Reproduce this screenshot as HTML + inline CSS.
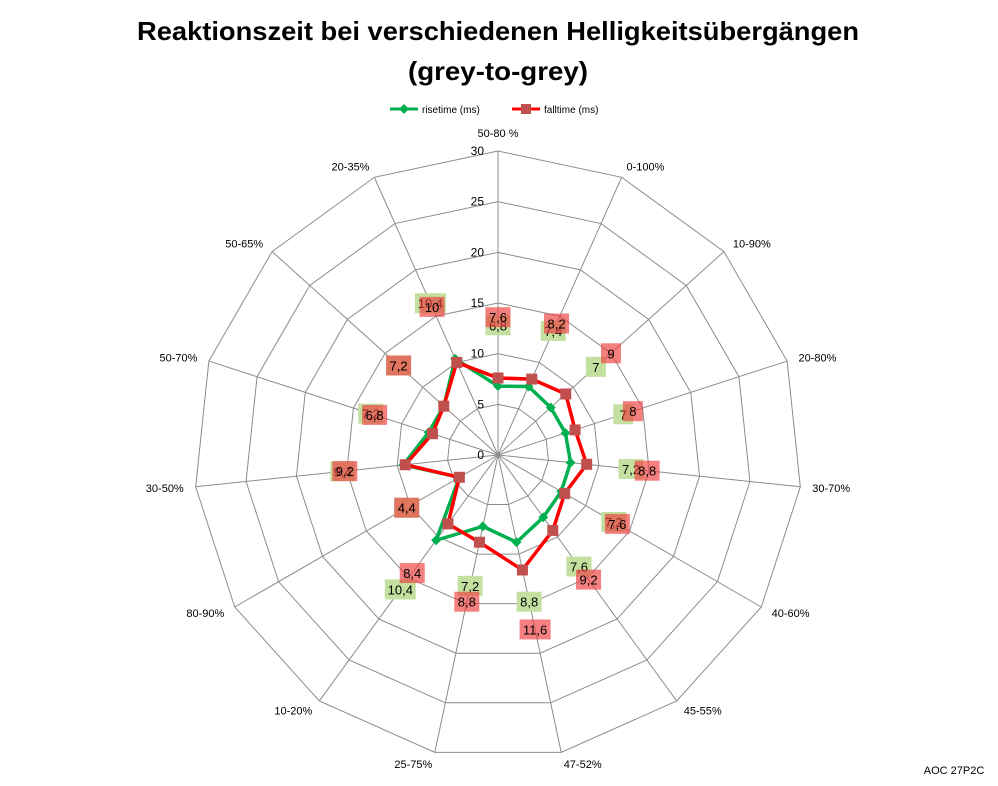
<!DOCTYPE html>
<html><head><meta charset="utf-8"><style>
body{margin:0;background:#fff;}
svg{display:block;font-family:"Liberation Sans",sans-serif;}
</style></head><body>
<svg id="chart" width="998" height="786" viewBox="0 0 998 786">
<text x="498" y="40" text-anchor="middle" font-size="26" font-weight="bold" textLength="722" lengthAdjust="spacingAndGlyphs">Reaktionszeit bei verschiedenen Helligkeitsübergängen</text>
<text x="498" y="80" text-anchor="middle" font-size="26" font-weight="bold" textLength="180" lengthAdjust="spacingAndGlyphs">(grey-to-grey)</text>
<g>
<g>
<line x1="390" y1="109" x2="418" y2="109" stroke="#00b050" stroke-width="3"/>
<rect x="400.5" y="105.5" width="7" height="7" fill="#00b050" transform="rotate(45 404 109)"/>
<text x="422" y="113" font-size="10">risetime (ms)</text>
</g>
<g>
<line x1="512" y1="109" x2="540" y2="109" stroke="#ff0000" stroke-width="3"/>
<rect x="521" y="104" width="10" height="10" fill="#c0504d"/>
<text x="544" y="113" font-size="10">falltime (ms)</text>
</g>
</g>
<g id="grid"></g>
<g id="ticks"></g>
<g id="cats"></g>
<g id="series"></g>
<g id="labels"></g>
<text x="954" y="774" text-anchor="middle" font-size="11">AOC 27P2C</text>
</svg>
<script>
const categories = ["50-80 %","0-100%","10-90%","20-80%","30-70%","40-60%","45-55%","47-52%","25-75%","10-20%","80-90%","30-50%","50-70%","50-65%","20-35%"];
const riseValues = [6.8,7.4,7,7,7.2,7.2,7.6,8.8,7.2,10.4,4.4,9.4,7.2,7.2,10.4];
const fallValues = [7.6,8.2,9,8,8.8,7.6,9.2,11.6,8.8,8.4,4.4,9.2,6.8,7.2,10];
const riseLabels = ["6,8","7,4","7","7","7,2","7,2","7,6","8,8","7,2","10,4","4,4","9,4","7,2","7,2","10,4"];
const fallLabels = ["7,6","8,2","9","8","8,8","7,6","9,2","11,6","8,8","8,4","4,4","9,2","6,8","7,2","10"];
const tickValues = [0,5,10,15,20,25,30];

const NS="http://www.w3.org/2000/svg";
const cx=498, cy=455, R=304, maxV=30;
const n=categories.length;
function ang(i){return i*2*Math.PI/n;}
function rScale(v){return v/maxV*R;}
function pt(i,v){const a=ang(i),r=rScale(v);return [cx+r*Math.sin(a), cy-r*Math.cos(a)];}
function mk(tag,attrs,parent){const e=document.createElementNS(NS,tag);for(const k in attrs)e.setAttribute(k,attrs[k]);parent.appendChild(e);return e;}

const grid=document.getElementById('grid');
tickValues.slice(1).forEach(t=>{
  const p=[];for(let i=0;i<n;i++)p.push(pt(i,t).join(','));
  const g=mk('polygon',{points:p.join(' '),fill:'none',stroke:'#8c8c8c','stroke-width':1},grid);
  
  
});
for(let i=0;i<n;i++){
  const [x,y]=pt(i,maxV);
  const l=mk('line',{x1:cx,y1:cy,x2:x,y2:y,stroke:'#8c8c8c','stroke-width':1},grid);
  
  
}
const ticks=document.getElementById('ticks');
tickValues.forEach(t=>{
  const tx=mk('text',{x:484,y:cy-rScale(t)+4,'text-anchor':'end','font-size':12},ticks);
  tx.textContent=t;
  
  
});
const cats=document.getElementById('cats');
categories.forEach((c,i)=>{
  const a=ang(i),s=Math.sin(a),co=Math.cos(a);
  const r=R+12;
  let x=cx+r*s, y=cy-r*co+4;
  let anchor='middle';
  if(s>0.15)anchor='start'; else if(s<-0.15)anchor='end';
  if(Math.abs(s)<=0.15){y=cy-(R+14)*co+(co>0?0:8);}
  const t=mk('text',{x:x,y:y,'text-anchor':anchor,'font-size':11},cats);
  t.textContent=c;
  
  
});
const series=document.getElementById('series');
function drawSeries(vals,color,marker,name){
  const g=mk('g',{},series);
  
  
  const p=vals.map((v,i)=>pt(i,v).join(','));
  mk('polygon',{points:p.join(' '),fill:'none',stroke:color,'stroke-width':3.5,'stroke-linejoin':'round'},g);
  vals.forEach((v,i)=>{
    const [x,y]=pt(i,v);
    let m;
    if(marker==='diamond'){
      m=mk('rect',{x:x-3.5,y:y-3.5,width:7,height:7,fill:'#00b050',transform:`rotate(45 ${x} ${y})`},g);
    }else{
      m=mk('rect',{x:x-5.5,y:y-5.5,width:11,height:11,fill:'#c0504d'},g);
    }
    
    
  });
}
drawSeries(riseValues,'#00b050','diamond','series-risetime');
drawSeries(fallValues,'#ff0000','square','series-falltime');

const labels=document.getElementById('labels');
function drawLabels(vals,texts,fill,op,name){
  vals.forEach((v,i)=>{
    const [x,y]=pt(i,v+6);
    const w=texts[i].length>3?31:(texts[i].length>1?25:20);
    const g=mk('g',{},labels);
    
    
    mk('rect',{x:x-w/2,y:y-10,width:w,height:20,fill:fill,'fill-opacity':op},g);
    const t=mk('text',{x:x,y:y+5,'text-anchor':'middle','font-size':13},g);
    t.textContent=texts[i];
  });
}
drawLabels(riseValues,riseLabels,'#c3e0a0',1,'risetime-data-label');
drawLabels(fallValues,fallLabels,'#f03c3c',0.65,'falltime-data-label');
</script>
</body></html>
